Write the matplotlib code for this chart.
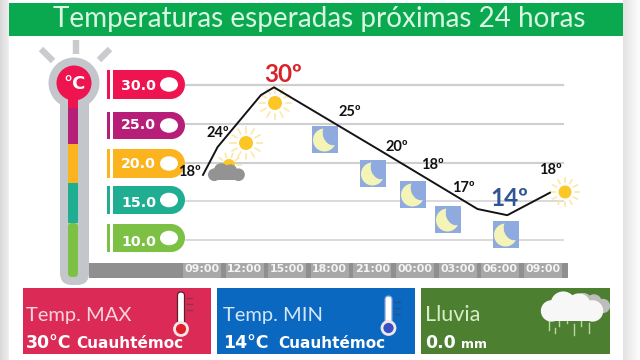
import numpy as np
import matplotlib
matplotlib.use("Agg")
import matplotlib.pyplot as plt
from matplotlib.patches import Rectangle, Circle, Ellipse, FancyBboxPatch

plt.rcParams['font.family'] = ['Lato', 'DejaVu Sans']
BOLD = ['DejaVu Sans']

# ---- data ----
title = "Temperaturas esperadas próximas 24 horas"
hour_ticks = [0, 3, 6, 9, 12, 15, 18, 21, 24]
hour_labels = ["09:00", "12:00", "15:00", "18:00", "21:00", "00:00", "03:00", "06:00", "09:00"]
scale_values = [30, 25, 20, 15, 10]
scale_labels = ["30.0", "25.0", "20.0", "15.0", "10.0"]
scale_colors = ["#ee1450", "#b71e78", "#fbb41e", "#1fae92", "#7cc143"]
line_hours = [0.07, 1.1, 4.15, 5.07, 12.5, 19.4, 21.5, 24.5]
line_temps = [18.4, 22.0, 28.7, 29.7, 21.6, 14.0, 13.2, 16.1]
forecast_values = ["18º", "24º", "30º", "25º", "20º", "18º", "17º", "14º", "18º"]
cards = [("Temp. MAX", "30°C", "Cuauhtémoc"), ("Temp. MIN", "14°C", "Cuauhtémoc"), ("Lluvia", "0.0", "mm")]

fig = plt.figure(figsize=(6.4, 3.6), dpi=100, facecolor="white")
bg = fig.add_axes([0, 0, 1, 1])
bg.set_xlim(0, 640); bg.set_ylim(360, 0); bg.axis("off")

def rect(x0, y0, x1, y1, c, z=1, **k):
    bg.add_patch(Rectangle((x0, y0), x1 - x0, y1 - y0, fc=c, ec="none", zorder=z, **k))

# page edges
for i, c in enumerate(["#d9d9d9", "#dcdcdc", "#dfdfdf", "#e2e2e2", "#e4e4e4", "#e6e6e6", "#e8e8e8", "#ebebeb", "#f0f0f0"]):
    rect(i, 0, i + 1, 360, c)
for i in range(17):
    v = 0.89 + 0.10 * i / 16
    rect(623 + i, 0, 624 + i, 360, (v, v, v))

# title band
rect(9, 3, 623, 36, "#0aa950")
bg.text(319, 19, title, color="#d9f7e2", fontsize=20.1, ha="center", va="center", zorder=3)

# thermometer
for (a, b) in [((41, 49), (53, 61)), ((76, 40), (76, 54)), ((110, 49), (99, 60))]:
    bg.plot([a[0], b[0]], [a[1], b[1]], color="#c9cbce", lw=4.6, solid_capstyle="butt", zorder=2)
bg.add_patch(Circle((74, 83), 25.5, fc="#c3c6ca", ec="none", zorder=2))
bg.add_patch(FancyBboxPatch((60, 90), 29, 195, boxstyle="round,pad=0,rounding_size=12", fc="#c3c6ca", ec="none", zorder=2))
rect(68, 95, 78, 108, "#ee1450", 3)
rect(68, 108, 78, 144, "#b71e78", 3)
rect(68, 144, 78, 183, "#fbb41e", 3)
rect(68, 183, 78, 223, "#1fae92", 3)
bg.add_patch(FancyBboxPatch((68, 223), 10, 54, boxstyle="round,pad=0,rounding_size=4", fc="#7cc143", ec="none", zorder=3))
bg.add_patch(Circle((74, 83), 17.5, fc="#ee1450", ec="none", zorder=4))
bg.text(74.5, 84, "°C", color="white", fontsize=13, ha="center", va="center", fontweight="bold", family=BOLD, zorder=5)

# scale badges
badge_tops = [70, 112, 149, 186, 224]
badge_bots = [99, 139, 178, 214, 252]
for c, t, b in zip(scale_colors, badge_tops, badge_bots):
    h = b - t
    rect(107, t, 109.5, b, c, 2)
    rect(113, t, 185 - h / 2, b, c, 2)
    bg.add_patch(Ellipse((185 - h / 2, (t + b) / 2), h, h, fc=c, ec="none", zorder=2))
    bg.add_patch(Ellipse((169, (t + b) / 2), 18, 14.5, fc="white", ec="none", zorder=3))

# time band
rect(89, 263, 568, 278, "#8f8f8f", 1)
for x in hour_ticks:
    px_c = 202 + x * 14.2
    rect(px_c - 19, 263, px_c + 19, 278, "#a8a8a8", 1.5)

# chart axes: 186..563 px horizontally, 85..240 px vertically
ax = fig.add_axes([186 / 640, 1 - 240 / 360, (563 - 186) / 640, (240 - 85) / 360], facecolor="none")
ax.set_xlim(-16 / 14.2, (563 - 202) / 14.2)
ax.set_ylim(10, 30)
for s in ax.spines.values():
    s.set_visible(False)
ax.set_xticks(hour_ticks, hour_labels)
ax.set_yticks(scale_values, scale_labels)
ax.tick_params(axis="x", length=0, pad=17, labelsize=7.9, labelcolor="#f4f4f4")
ax.tick_params(axis="y", length=0, pad=21.5, labelsize=10.2, labelcolor="white")
for l in ax.get_xticklabels() + ax.get_yticklabels():
    l.set_fontfamily(BOLD)
    l.set_fontweight("bold")
for v, lw in zip(scale_values, [1.6, 1.5, 1.5, 1.1, 1.1]):
    ax.axhline(v, color="#cfcfcf", lw=lw, zorder=1, clip_on=False)

px = bg.transData

def sun(x, y, r=7, rl=16, z=5):
    for a in np.arange(0, 360, 30):
        ca, sa = np.cos(np.radians(a)), np.sin(np.radians(a))
        ax.plot([x + (r + 3.5) * ca, x + rl * ca], [y + (r + 3.5) * sa, y + rl * sa],
                color="#fbe8ac", lw=1.2, transform=px, zorder=z, clip_on=False)
    ax.add_patch(Circle((x, y), r, fc="#fcc726", ec="none", transform=px, zorder=z + 0.1, clip_on=False))

def moon(x, y, w=26, h=27, z=5):
    sq = Rectangle((x - w / 2, y - h / 2), w, h, fc="#8eaadf", ec="none", transform=px, zorder=z, clip_on=False)
    ax.add_patch(sq)
    m = Ellipse((x - 0.5, y + 1), 23, 23, fc="#f4f4b6", ec="none", transform=px, zorder=z + 0.1)
    ax.add_patch(m)
    m.set_clip_path(sq)
    b = Ellipse((x + 6.5, y - 4.5), 17, 22, angle=-20, fc="#8eaadf", ec="none", transform=px, zorder=z + 0.2)
    ax.add_patch(b)
    b.set_clip_path(sq)

def cloud(a, x, y, s, c, z, tr):
    for dx, dy, rr in [(-11, 1.5, 5.5), (-5, -2, 6.5), (3, -1.5, 6), (10, 1.5, 5.5)]:
        a.add_patch(Circle((x + dx * s, y + dy * s), rr * s, fc=c, ec="none", transform=tr, zorder=z, clip_on=False))
    a.add_patch(Rectangle((x - 11 * s, y), 21 * s, 6.5 * s, fc=c, ec="none", transform=tr, zorder=z, clip_on=False))

moon(325, 139); moon(373, 173); moon(413, 194); moon(448, 219); moon(506, 234)
sun(275, 103); sun(246, 143); sun(565, 192, 6.5, 14)
# cloudy sun
ax.add_patch(Circle((229, 165), 6, fc="#fcc726", ec="none", transform=px, zorder=5, clip_on=False))
for a_ in np.arange(180, 361, 36):
    ca, sa = np.cos(np.radians(a_)), np.sin(np.radians(a_))
    ax.plot([229 + 8 * ca, 229 + 12 * ca], [165 + 8 * sa, 165 + 12 * sa], color="#fbe8ac", lw=1.2, transform=px, zorder=5, clip_on=False)
cloud(ax, 227, 173, 1.15, "#939393", 5.5, px)

# temperature line
ax.plot(line_hours, line_temps, color="#141414", lw=1.4, zorder=6, clip_on=False)

# forecast labels
label_px = [(189, 172), (218, 133), (283, 74), (350, 112), (397, 147), (432, 165), (463, 188), (509, 199), (550, 170)]
for i, (t, (lx, ly)) in enumerate(zip(forecast_values, label_px)):
    c, fs = "#111111", 10.5
    if i == 2:
        c, fs = "#d9232b", 17.5
    if i == 7:
        c, fs = "#2f5597", 17.5
    ax.text(lx, ly, t, color=c, fontsize=fs, fontweight="bold", ha="center", va="center",
            transform=px, zorder=7, clip_on=False)

# bottom cards
card_boxes = [(23, 211, "#dc2a57"), (217, 415, "#0a68c0"), (421, 610, "#4c7f2f")]
for (x0, x1, c) in card_boxes:
    rect(x0, 288, x1, 354, c, 2)
text_c = ["#f7d4dd", "#d3e6f8", "#d8ecc8"]
name_x = [26, 223, 425]
val_x = [26, 223, 425]
sub_x = [76, 278, 461]
sub_fs = [11, 11, 9]
name_fs = [14.5, 14.5, 15.5]
for i, (nm, val, sub) in enumerate(cards):
    bg.text(name_x[i], 315, nm, color=text_c[i], fontsize=name_fs[i], ha="left", va="center", zorder=3)
    bg.text(val_x[i], 343, val, color="white", fontsize=12.5, fontweight="bold", family=BOLD, ha="left", va="center", zorder=3)
    bg.text(sub_x[i], 344, sub, color="white", fontsize=sub_fs[i], fontweight="bold", family=BOLD, ha="left", va="center", zorder=3)

def thermo(x, bulb, edge, top, bot):
    bg.add_patch(FancyBboxPatch((x - 3.5, top), 7, bot - top, boxstyle="round,pad=0,rounding_size=3.5",
                                fc="white", ec=edge, lw=0.9, zorder=3))
    bg.add_patch(Circle((x, bot), 6.5, fc=bulb, ec="#f2e6e6", lw=2, zorder=4))
    for yy in [top + 6, top + 12, top + 18]:
        bg.plot([x + 6, x + 11], [yy, yy], color="#444444", lw=1, zorder=3, alpha=0.55)

thermo(181, "#e01f2d", "#5a2030", 292, 329)
thermo(388.5, "#3a4fc4", "#7f9fd8", 296, 328)

# rain cloud
cloud(bg, 590, 304, 1.3, "#bdbdbd", 3, bg.transData)
cloud(bg, 573, 308, 1.95, "#f7f7f7", 3.5, bg.transData)
for xx, y0, y1 in [(549, 320, 330), (555, 328, 333), (559, 319, 326), (567, 319, 323), (574, 324, 335), (581, 319, 326), (589, 323, 333)]:
    bg.plot([xx, xx], [y0, y1], color="#b9d6a6", lw=1, zorder=3)

fig.savefig("out.png", dpi=100)
